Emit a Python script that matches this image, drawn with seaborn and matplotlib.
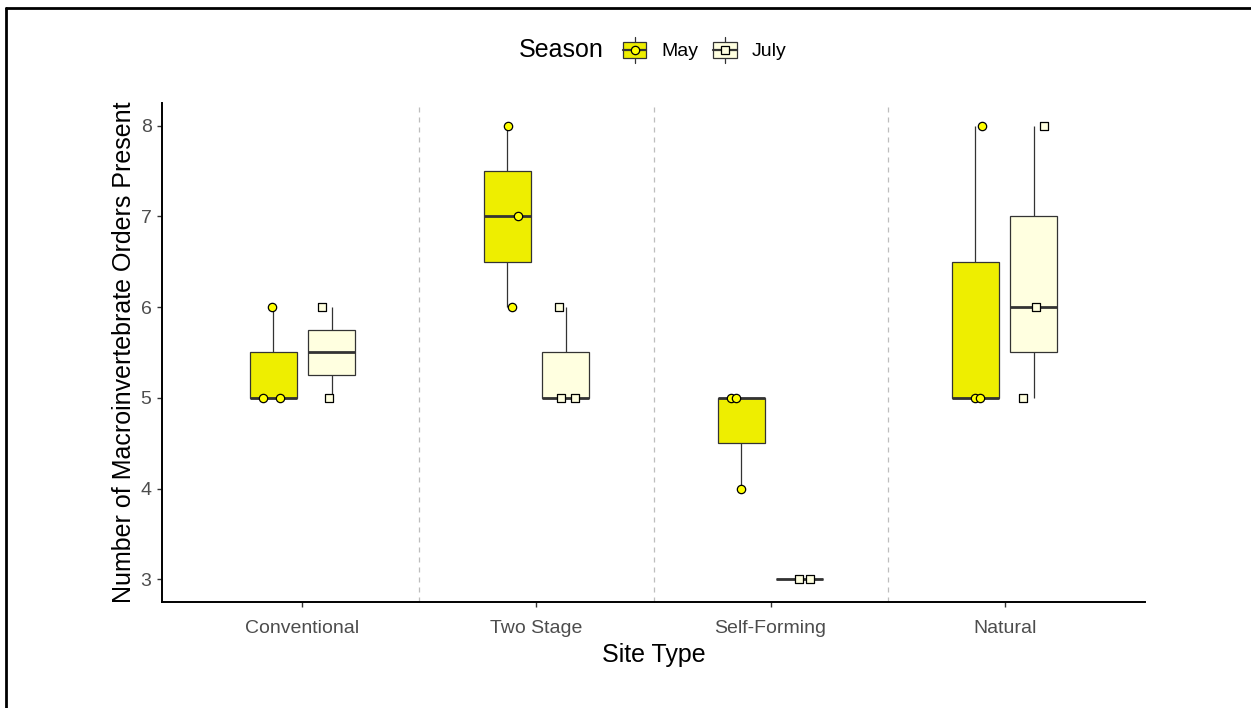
import numpy as np
import pandas as pd
import matplotlib
matplotlib.use("Agg")
import matplotlib.pyplot as plt
import matplotlib.transforms as mtransforms
from matplotlib.lines import Line2D
from matplotlib.patches import Rectangle
from matplotlib.legend_handler import HandlerBase
import seaborn as sns

# ---- data ----
sites = ["Conventional", "Two Stage", "Self-Forming", "Natural"]
seasons = ["May", "July"]
conventional_may = [5, 5, 6]
conventional_july = [5, 6]
two_stage_may = [6, 7, 8]
two_stage_july = [5, 5, 6]
self_forming_may = [4, 5, 5]
self_forming_july = [3, 3]
natural_may = [5, 5, 8]
natural_july = [5, 6, 8]

groups = {
    ("Conventional", "May"): conventional_may,
    ("Conventional", "July"): conventional_july,
    ("Two Stage", "May"): two_stage_may,
    ("Two Stage", "July"): two_stage_july,
    ("Self-Forming", "May"): self_forming_may,
    ("Self-Forming", "July"): self_forming_july,
    ("Natural", "May"): natural_may,
    ("Natural", "July"): natural_july,
}
rows = []
for (site, season), vals in groups.items():
    for v in vals:
        rows.append({"Site": site, "Season": season, "Value": v})
df = pd.DataFrame(rows)

# ---- style ----
sns.set_style("white")
plt.rcParams["font.family"] = ["Liberation Sans", "DejaVu Sans"]
plt.rcParams["text.color"] = "black"

box_colors = {"May": "#EEEE00", "July": "#FFFFE0"}
pt_colors = {"May": "#FFFF00", "July": "#FFFFE0"}
pt_markers = {"May": "o", "July": "s"}
edge = "#333333"

fig = plt.figure(figsize=(12.51, 7.08), dpi=100)
ax = fig.add_axes([162 / 1251, 1 - 602 / 708, (1145 - 162) / 1251, (602 - 103) / 708])

sns.boxplot(
    data=df, x="Site", y="Value", hue="Season", order=sites, hue_order=seasons,
    palette=box_colors, width=0.5, gap=0.2, dodge=True, showfliers=False,
    showcaps=False, whis=1.5, linecolor=edge, linewidth=0.9,
    medianprops={"linewidth": 2.0, "color": edge}, saturation=1, legend=False, ax=ax,
)

np.random.seed(7)
offsets = {"May": -0.125, "July": 0.125}
for s in seasons:
    tr = mtransforms.Affine2D().translate(offsets[s], 0) + ax.transData
    sns.stripplot(
        data=df[df["Season"] == s], x="Site", y="Value", order=sites,
        color=pt_colors[s], marker=pt_markers[s], size=6.0, linewidth=0.9,
        edgecolor="black", jitter=0.05, transform=tr, zorder=4, ax=ax,
    )

for xv in [0.5, 1.5, 2.5]:
    ax.axvline(xv, color="#BDBDBD", linestyle=(0, (4, 4)), linewidth=0.9, zorder=0)

ax.set_xlim(-0.6, 3.6)
ax.set_ylim(2.75, 8.25)
ax.set_yticks([3, 4, 5, 6, 7, 8])
for sp in ["top", "right"]:
    ax.spines[sp].set_visible(False)
for sp in ["left", "bottom"]:
    ax.spines[sp].set_color("black")
    ax.spines[sp].set_linewidth(1.4)
ax.tick_params(axis="both", which="both", length=3.5, width=1.0, color="#333333",
               labelsize=14, labelcolor="#4D4D4D", left=True, bottom=True)
ax.tick_params(axis="x", pad=9.5)
ax.tick_params(axis="y", pad=4)
ax.set_xlabel("Site Type", fontsize=18, color="black", labelpad=4)
ax.set_ylabel("Number of Macroinvertebrate Orders Present", fontsize=18, color="black", labelpad=3)


# ---- legend ----
class BoxKey(HandlerBase):
    def __init__(self, face, marker, mface):
        super().__init__()
        self.face, self.marker, self.mface = face, marker, mface

    def create_artists(self, legend, orig_handle, xdescent, ydescent, width, height, fontsize, trans):
        x0, y0 = -xdescent, -ydescent
        cx, cy = x0 + width / 2, y0 + height / 2
        bw, bh = width, height * 0.62
        vline = Line2D([cx, cx], [y0, y0 + height], color=edge, lw=0.9)
        rect = Rectangle((cx - bw / 2, cy - bh / 2), bw, bh, facecolor=self.face, edgecolor=edge, lw=0.9)
        hline = Line2D([cx - bw / 2, cx + bw / 2], [cy, cy], color=edge, lw=1.6)
        pt = Line2D([cx], [cy], marker=self.marker, markerfacecolor=self.mface, markeredgecolor="black",
                    markersize=6.0, markeredgewidth=0.9, linestyle="none")
        arts = [vline, rect, hline, pt]
        for a in arts:
            a.set_transform(trans)
        return arts


handles = [Rectangle((0, 0), 1, 1) for _ in seasons]
hmap = {h: BoxKey(box_colors[s], pt_markers[s], pt_colors[s]) for h, s in zip(handles, seasons)}
leg = fig.legend(handles, seasons, handler_map=hmap, loc="center left",
                 bbox_to_anchor=(623 / 1251, 1 - 50 / 708), ncol=2, frameon=False,
                 fontsize=14, handlelength=1.2, handleheight=1.7, handletextpad=0.75,
                 columnspacing=0.8, borderpad=0, borderaxespad=0)
for t in leg.get_texts():
    t.set_color("black")
fig.text(519 / 1251, 1 - 50 / 708, "Season", fontsize=18, va="center", ha="left", color="black")

# ---- outer border (top and left) ----
fig.add_artist(Line2D([6 / 1251, 1], [1 - 7.5 / 708, 1 - 7.5 / 708], transform=fig.transFigure,
                      color="black", lw=2))
fig.add_artist(Line2D([6 / 1251, 6 / 1251], [0, 1 - 7.5 / 708], transform=fig.transFigure,
                      color="black", lw=2))

fig.savefig("out.png", dpi=100, facecolor="white")
